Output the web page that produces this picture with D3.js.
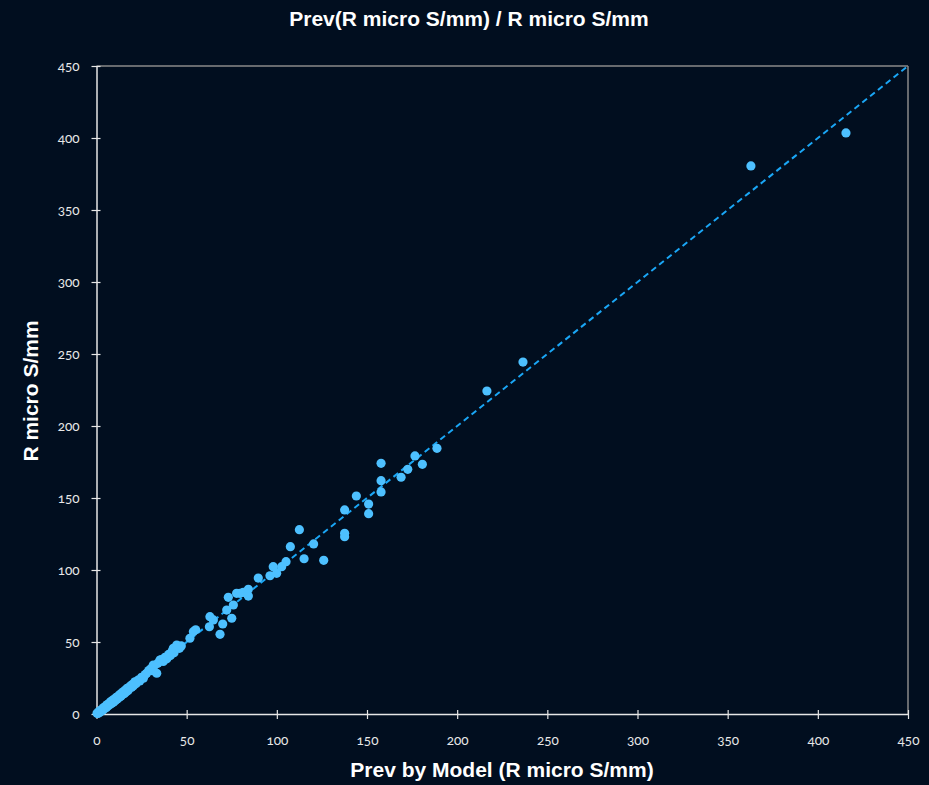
<!DOCTYPE html>
<html><head><meta charset="utf-8">
<script src="https://cdn.jsdelivr.net/npm/d3@7"></script>
<style>
html,body{margin:0;padding:0;background:#010e1f;}
svg{display:block;}
.tick text{font-family:Lato,"Open Sans",sans-serif;font-variant-numeric:oldstyle-nums;font-feature-settings:"onum";}
</style></head>
<body>
<script>
const titleText = "Prev(R micro S/mm) / R micro S/mm";
const xTitle = "Prev by Model (R micro S/mm)";
const yTitle = "R micro S/mm";
const xTicks = [0,50,100,150,200,250,300,350,400,450];
const yTicks = [0,50,100,150,200,250,300,350,400,450];
const fitLine = [[0,0],[450,450]];
const predicted = [0.3,0.8,1.2,1.7,2.1,2.6,3.0,3.5,4.0,4.4,5.0,5.5,6.0,6.5,7.0,7.5,8.0,8.5,9.0,9.5,10.0,10.5,11.0,11.5,12.0,12.5,13.0,13.5,14.0,14.5,15.0,15.5,16.0,16.5,17.0,17.5,18.0,18.6,19.0,19.5,20.0,20.5,21.3,22.0,23.0,24.0,25.0,26.0,27.0,27.8,29.0,30.0,31.0,31.5,32.0,33.4,34.0,35.2,36.0,37.0,38.0,39.0,40.0,41.0,42.0,42.6,43.0,44.0,44.5,45.0,46.0,47.0,51.8,53.7,55.0,62.6,62.9,64.8,68.5,70.0,72.2,73.1,75.0,75.9,77.7,79.6,81.4,84.2,84.2,89.7,96.2,98.0,99.9,102.7,105.1,107.5,112.5,115.1,120.4,126.0,137.6,137.6,137.6,144.1,150.9,150.9,157.8,157.8,157.8,168.9,172.6,176.6,180.7,188.8,216.5,236.5,362.9,415.6];
const actual = [0.5,0.4,1.5,1.0,2.4,1.9,3.3,2.8,4.5,3.7,5.4,4.6,6.6,5.7,7.5,6.6,8.7,7.5,9.6,8.4,10.4,9.3,11.6,10.5,12.4,11.4,13.6,12.3,14.5,13.5,15.6,14.3,16.6,15.4,17.8,16.3,18.4,19.0,19.7,18.5,20.6,19.6,22.4,21.1,23.5,22.9,25.5,24.9,27.4,28.3,30.2,31.3,30.1,34.0,33.5,28.3,35.2,37.5,37.8,36.5,39.4,38.3,41.4,40.6,43.7,45.6,42.6,45.5,47.9,46.8,45.6,47.3,52.6,57.2,58.5,60.6,67.6,65.3,55.3,62.5,72.2,81.0,66.5,75.7,83.8,83.8,84.5,86.6,81.9,94.4,96.0,102.3,97.7,102.3,105.8,116.2,128.0,107.8,118.1,106.7,141.7,125.5,123.1,151.4,145.8,139.1,174.1,162.0,154.2,164.4,169.9,179.2,173.4,184.5,224.3,244.4,380.6,403.5];

const W = 929, H = 785;
const svg = d3.select("body").append("svg").attr("width", W).attr("height", H)
  .style("background", "#010e1f");

const x = d3.scaleLinear().domain([0,450]).range([96.5,908]);
const y = d3.scaleLinear().domain([0,450]).range([714,66]);

// frame (top & right)
svg.append("line").attr("x1",x(0)).attr("x2",x(450)).attr("y1",y(450)).attr("y2",y(450))
  .attr("stroke","#8a8a8a").attr("stroke-width",1.5);
svg.append("line").attr("x1",x(450)).attr("x2",x(450)).attr("y1",y(450)).attr("y2",y(0))
  .attr("stroke","#8a8a8a").attr("stroke-width",1.5);

const xAxis = svg.append("g").attr("transform",`translate(0,${y(0)})`)
  .call(d3.axisBottom(x).tickValues(xTicks).tickSize(5).tickPadding(16).tickSizeOuter(0));
const yAxis = svg.append("g").attr("transform",`translate(${x(0)},0)`)
  .call(d3.axisLeft(y).tickValues(yTicks).tickSize(5).tickPadding(12).tickSizeOuter(0));

[xAxis,yAxis].forEach(g=>{
  g.select(".domain").attr("stroke","#e6e6e6").attr("stroke-width",1.5);
  g.selectAll(".tick line").attr("stroke","#e6e6e6").attr("stroke-width",1.2);
  g.selectAll(".tick text").attr("fill","#e8e8e8").style("font-size","13.5px");
});
// ticks crossing the axis
xAxis.selectAll(".tick line").attr("y1",-4).attr("y2",5);
yAxis.selectAll(".tick line").attr("x1",4).attr("x2",-5);

// dashed reference line
svg.append("line")
  .attr("x1",x(fitLine[0][0])).attr("y1",y(fitLine[0][1]))
  .attr("x2",x(fitLine[1][0])).attr("y2",y(fitLine[1][1]))
  .attr("stroke","#1aa6f5").attr("stroke-width",2).attr("stroke-dasharray","6,4");

// points
svg.append("g").selectAll("circle").data(predicted.map((p,i)=>[p,actual[i]])).join("circle")
  .attr("cx",d=>x(d[0])).attr("cy",d=>y(d[1])).attr("r",4.6)
  .attr("fill","#4dc0ff");

// titles
svg.append("text").attr("x",469).attr("y",26).attr("text-anchor","middle")
  .attr("fill","#ffffff").style("font-family","'Liberation Sans',Arial,sans-serif")
  .style("font-weight","bold").style("font-size","21px").text(titleText);
svg.append("text").attr("x",502).attr("y",777).attr("text-anchor","middle")
  .attr("fill","#ffffff").style("font-family","'Liberation Sans',Arial,sans-serif")
  .style("font-weight","bold").style("font-size","21px").text(xTitle);
svg.append("text").attr("transform","translate(38,391) rotate(-90)").attr("text-anchor","middle")
  .attr("fill","#ffffff").style("font-family","'Liberation Sans',Arial,sans-serif")
  .style("font-weight","bold").style("font-size","21px").text(yTitle);
</script>
</body></html>
